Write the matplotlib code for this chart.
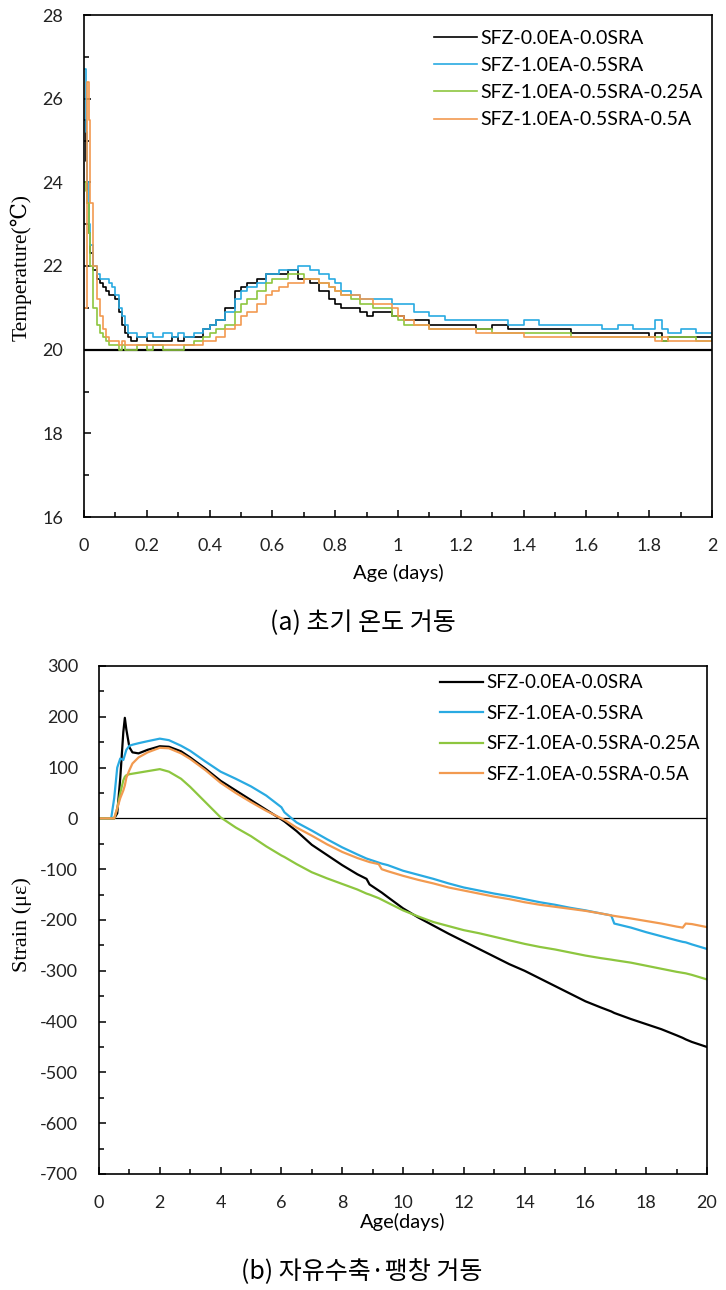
import numpy as np
import matplotlib.pyplot as plt
from matplotlib.ticker import MultipleLocator

# ---- data: (a) early-age temperature ----
t_days = [0, 0.005, 0.01, 0.015, 0.02, 0.03, 0.04, 0.05, 0.06, 0.07,
          0.08, 0.09, 0.10, 0.11, 0.12, 0.13, 0.14, 0.15, 0.17, 0.20,
          0.22, 0.25, 0.28, 0.30, 0.32, 0.35, 0.38, 0.40, 0.42, 0.45,
          0.48, 0.50, 0.52, 0.55, 0.58, 0.60, 0.62, 0.65, 0.68, 0.70,
          0.72, 0.75, 0.78, 0.80, 0.82, 0.85, 0.88, 0.90, 0.92, 0.95,
          0.98, 1.00, 1.02, 1.05, 1.10, 1.15, 1.20, 1.25, 1.30, 1.35,
          1.40, 1.45, 1.50, 1.55, 1.60, 1.65, 1.70, 1.75, 1.80, 1.82,
          1.84, 1.86, 1.90, 1.95, 2.00]

temp_ref = [25.5, 24.5, 23.5, 22.8, 22.3, 21.9, 21.7, 21.6, 21.5, 21.4,
            21.3, 21.3, 21.2, 20.9, 20.6, 20.4, 20.3, 20.2, 20.3, 20.2,
            20.2, 20.2, 20.3, 20.2, 20.3, 20.3, 20.5, 20.6, 20.7, 21.0,
            21.4, 21.5, 21.6, 21.7, 21.8, 21.8, 21.8, 21.9, 21.7, 21.7,
            21.6, 21.4, 21.2, 21.1, 21.0, 21.0, 20.9, 20.8, 20.9, 20.9,
            20.8, 20.8, 20.7, 20.7, 20.6, 20.6, 20.6, 20.5, 20.6, 20.5,
            20.5, 20.5, 20.5, 20.4, 20.4, 20.4, 20.4, 20.4, 20.3, 20.4,
            20.2, 20.3, 20.3, 20.3, 20.3]

temp_ea_sra = [26.7, 25.2, 24.0, 23.0, 22.5, 22.0, 21.8, 21.7, 21.7, 21.7,
               21.6, 21.5, 21.3, 21.0, 20.8, 20.6, 20.4, 20.4, 20.3, 20.4,
               20.3, 20.4, 20.3, 20.4, 20.3, 20.4, 20.5, 20.6, 20.7, 20.9,
               21.2, 21.4, 21.5, 21.6, 21.8, 21.8, 21.9, 21.9, 22.0, 22.0,
               21.9, 21.8, 21.7, 21.6, 21.4, 21.3, 21.2, 21.2, 21.2, 21.2,
               21.1, 21.1, 21.1, 20.9, 20.8, 20.7, 20.7, 20.7, 20.7, 20.6,
               20.7, 20.6, 20.6, 20.6, 20.6, 20.5, 20.6, 20.5, 20.5, 20.7,
               20.5, 20.4, 20.5, 20.4, 20.4]

temp_025a = [24.0, 23.8, 23.5, 22.8, 22.0, 21.0, 20.6, 20.4, 20.3, 20.2,
             20.1, 20.1, 20.1, 20.0, 20.1, 20.0, 20.0, 20.0, 20.1, 20.0,
             20.1, 20.0, 20.0, 20.0, 20.1, 20.2, 20.3, 20.4, 20.5, 20.6,
             20.9, 21.1, 21.2, 21.4, 21.6, 21.7, 21.7, 21.8, 21.8, 21.7,
             21.7, 21.6, 21.5, 21.4, 21.3, 21.2, 21.1, 21.1, 21.0, 21.0,
             20.8, 20.7, 20.6, 20.6, 20.5, 20.5, 20.5, 20.5, 20.4, 20.4,
             20.4, 20.4, 20.4, 20.3, 20.3, 20.3, 20.3, 20.3, 20.3, 20.3,
             20.2, 20.3, 20.3, 20.2, 20.3]

temp_05a = [21.0, 21.0, 26.4, 25.5, 23.5, 22.0, 21.2, 20.8, 20.5, 20.3,
            20.2, 20.2, 20.2, 20.1, 20.2, 20.1, 20.1, 20.1, 20.1, 20.1,
            20.1, 20.1, 20.1, 20.1, 20.1, 20.1, 20.2, 20.2, 20.3, 20.5,
            20.6, 20.8, 20.9, 21.1, 21.3, 21.4, 21.5, 21.6, 21.6, 21.7,
            21.7, 21.6, 21.5, 21.4, 21.3, 21.3, 21.2, 21.2, 21.1, 21.1,
            21.0, 20.8, 20.7, 20.6, 20.5, 20.5, 20.5, 20.4, 20.4, 20.4,
            20.3, 20.3, 20.3, 20.3, 20.3, 20.3, 20.3, 20.3, 20.3, 20.2,
            20.3, 20.2, 20.2, 20.2, 20.2]

# ---- data: (b) free shrinkage / expansion strain ----
s_days = [0, 0.4, 0.5, 0.6, 0.7, 0.8, 0.85, 0.9, 1.0, 1.1,
          1.3, 1.6, 2.0, 2.3, 2.7, 3.0, 3.5, 4.0, 4.5, 5.0,
          5.5, 6.0, 6.1, 6.5, 7.0, 7.5, 8.0, 8.5, 8.8, 8.9,
          9.2, 9.3, 9.5, 10, 10.5, 11, 11.5, 12, 12.5, 13,
          13.5, 14, 14.5, 15, 15.5, 16, 16.5, 16.85, 16.95, 17.5,
          18, 18.5, 19, 19.2, 19.3, 19.5, 20]

strain_ref = [0, 0, 0, 10, 80, 170, 198, 175, 140, 130,
              128, 135, 142, 141, 132, 120, 98, 74, 55, 36,
              17, -2, -6, -25, -52, -72, -92, -110, -119, -130,
              -142, -146, -155, -177, -195, -211, -227, -242, -257, -272,
              -287, -300, -315, -330, -345, -360, -372, -380, -383, -395,
              -405, -415, -427, -432, -435, -440, -450]

strain_ea_sra = [0, 0, 40, 100, 118, 115, 125, 135, 143, 145,
                 148, 152, 157, 154, 143, 133, 112, 92, 78, 63,
                 45, 22, 12, -8, -24, -41, -57, -71, -79, -81,
                 -87, -89, -92, -103, -111, -119, -128, -136, -142, -148,
                 -153, -159, -165, -170, -176, -181, -187, -191, -207, -215,
                 -224, -232, -240, -243, -244, -248, -257]

strain_025a = [0, 0, 0, 20, 50, 75, 82, 85, 87, 88,
               90, 93, 97, 92, 78, 62, 32, 2, -18, -35,
               -55, -73, -76, -90, -106, -118, -129, -140, -148, -150,
               -157, -160, -166, -181, -193, -204, -212, -220, -226, -233,
               -240, -247, -253, -258, -264, -270, -275, -278, -279, -284,
               -290, -296, -302, -304, -305, -308, -317]

strain_05a = [0, 0, 0, 20, 40, 55, 65, 80, 95, 108,
              120, 130, 139, 138, 128, 117, 95, 70, 50, 32,
              15, 0, -3, -18, -34, -51, -66, -78, -84, -86,
              -90, -100, -104, -113, -121, -128, -136, -142, -148, -154,
              -159, -165, -170, -174, -178, -182, -187, -191, -192, -197,
              -202, -207, -213, -215, -207, -208, -214]

labels = ['SFZ-0.0EA-0.0SRA', 'SFZ-1.0EA-0.5SRA',
          'SFZ-1.0EA-0.5SRA-0.25A', 'SFZ-1.0EA-0.5SRA-0.5A']
colors = ['#000000', '#29aae2', '#8dc63f', '#f29a50']

sans = ['Lato', 'DejaVu Sans']
serif = ['Liberation Serif', 'DejaVu Serif']
kr = ['Noto Sans CJK KR', 'DejaVu Sans']
plt.rcParams['font.family'] = sans
plt.rcParams['axes.unicode_minus'] = False

fig = plt.figure(figsize=(7.26, 12.9), dpi=100)
ax1 = fig.add_axes([84/726, 1-517/1290, 628/726, 502/1290])
ax2 = fig.add_axes([99/726, 1-1174/1290, 608/726, 508/1290])

temps = [temp_ref, temp_ea_sra, temp_025a, temp_05a]
strains = [strain_ref, strain_ea_sra, strain_025a, strain_05a]

for y, c, lab in zip(temps, colors, labels):
    ax1.plot(t_days, y, color=c, lw=1.2, drawstyle='steps-post', label=lab)
ax1.axhline(20, color='black', lw=1.6, zorder=1)

for y, c, lab in zip(strains, colors, labels):
    ax2.plot(s_days, y, color=c, lw=1.6, label=lab)
ax2.axhline(0, color='black', lw=0.9, zorder=1)

# axes styling
ax1.set_xlim(0, 2)
ax1.set_ylim(16, 28)
ax1.xaxis.set_minor_locator(MultipleLocator(0.1))
ax1.yaxis.set_major_locator(MultipleLocator(2))
ax1.yaxis.set_minor_locator(MultipleLocator(1))
ax1.set_xticks([0, 0.2, 0.4, 0.6, 0.8, 1, 1.2, 1.4, 1.6, 1.8, 2])
ax1.set_xticklabels(['0', '0.2', '0.4', '0.6', '0.8', '1', '1.2', '1.4', '1.6', '1.8', '2'])

ax2.set_xlim(0, 20)
ax2.set_ylim(-700, 300)
ax2.xaxis.set_major_locator(MultipleLocator(2))
ax2.xaxis.set_minor_locator(MultipleLocator(1))
ax2.yaxis.set_major_locator(MultipleLocator(100))
ax2.yaxis.set_minor_locator(MultipleLocator(50))

for ax in (ax1, ax2):
    for sp in ax.spines.values():
        sp.set_linewidth(1.2)
    ax.tick_params(which='both', direction='in', top=False, right=False,
                   labelsize=13, width=1.1, labelcolor='#222222')
    ax.tick_params(which='major', length=5, pad=15)
    ax.tick_params(which='minor', length=3.5)

ax1.set_ylabel('Temperature(℃)', family=serif, fontsize=15.5)
ax1.yaxis.set_label_coords(-0.083, 0.498)
ax1.set_xlabel('Age (days)', fontsize=14.5)
ax1.xaxis.set_label_coords(0.5, -0.094)

ax2.set_ylabel('Strain (με)', family=serif, fontsize=16)
ax2.yaxis.set_label_coords(-0.110, 0.492)
ax2.set_xlabel('Age(days)', fontsize=14.5)
ax2.xaxis.set_label_coords(0.5, -0.077)

ax1.legend(loc='upper left', bbox_to_anchor=(0.557, 0.970), frameon=False,
           fontsize=14, handlelength=2.2, handletextpad=0.2, labelspacing=0.52,
           borderpad=0, borderaxespad=0)
ax2.legend(loc='upper left', bbox_to_anchor=(0.561, 0.984), frameon=False,
           fontsize=13.5, handlelength=2.3, handletextpad=0.15, labelspacing=0.72,
           borderpad=0, borderaxespad=0)

fig.text(363/726, 1-623/1290, '(a) 초기 온도 거동', family=kr, fontsize=18,
         ha='center', va='center')
fig.text(362/726, 1-1272/1290, '(b) 자유수축·팽창 거동', family=kr, fontsize=18,
         ha='center', va='center')

plt.savefig('out.png', dpi=100)
